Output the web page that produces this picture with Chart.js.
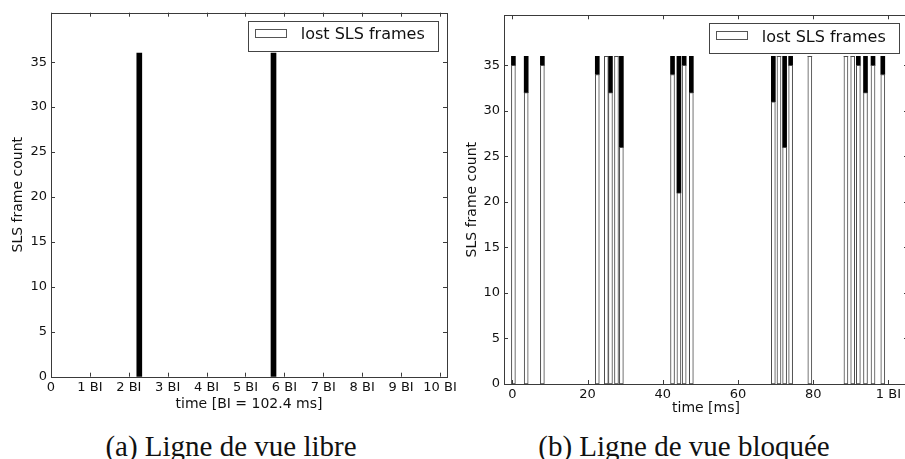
<!DOCTYPE html>
<html lang="fr">
<head>
    <meta charset="UTF-8">
    <title>SLS frames</title>
    <style>
        html, body {
            margin: 0;
            padding: 0;
            background: #fff;
            overflow: hidden;
            width: 905px;
            height: 459px;
        }
        canvas {
            position: absolute;
            top: 0;
        }
        #chart-a { left: 0; }
        #chart-b { left: 460px; }
        .caption {
            position: absolute;
            top: 432px;
            font-family: "Liberation Serif", serif;
            font-size: 29px;
            line-height: 29px;
            color: #111;
            white-space: nowrap;
            text-align: center;
            width: 400px;
        }
    </style>
</head>
<body>
    <canvas id="chart-a" width="460" height="415"></canvas>
    <canvas id="chart-b" width="448" height="420"></canvas>
    <div class="caption" style="left: 31px;">(a) Ligne de vue libre</div>
    <div class="caption" style="left: 484px;">(b) Ligne de vue bloquée</div>

    <script src="https://cdn.jsdelivr.net/npm/chart.js"></script>
    <script>
        // (a) free line of sight, time in BI
        const timesA = [2.27, 5.72];
        const lostA = [0, 0];
        const receivedA = [36, 36];
        const xTicksA = [0, 1, 2, 3, 4, 5, 6, 7, 8, 9, 10];
        const xLabelsA = ['0', '1 BI', '2 BI', '3 BI', '4 BI', '5 BI', '6 BI', '7 BI', '8 BI', '9 BI', '10 BI'];

        // (b) blocked line of sight, time in ms
        const timesB = [0.3, 3.7, 8.0, 22.6, 25.0, 26.1, 27.7, 29.0, 42.6, 44.3, 45.7, 47.6,
                        69.4, 70.9, 72.4, 74.0, 79.1, 88.7, 90.5, 92.0, 93.9, 95.9, 98.5];
        const lostB = [35, 32, 35, 34, 36, 32, 36, 26, 34, 21, 35, 32,
                       31, 36, 26, 35, 36, 36, 36, 35, 32, 35, 34];
        const receivedB = [1, 4, 1, 2, 0, 4, 0, 10, 2, 15, 1, 4,
                           5, 0, 10, 1, 0, 0, 0, 1, 4, 1, 2];
        const xTicksB = [0, 20, 40, 60, 80, 100];
        const xLabelsB = ['0', '20', '40', '60', '80', '1 BI'];

        const yTicks = [0, 5, 10, 15, 20, 25, 30, 35];
        const legendLabel = 'lost SLS frames';

        const tickFont = { family: 'DejaVu Sans', size: 13 };
        const titleFont = { family: 'DejaVu Sans', size: 14 };
        const spineColor = '#3a3a3a';

        // matplotlib-like frame: box, inward ticks on four sides, legend inside
        const framePlugin = {
            id: 'frame',
            afterDraw(chart) {
                const ctx = chart.ctx;
                const a = chart.chartArea;
                const xs = chart.scales.x, ys = chart.scales.y;
                ctx.save();
                ctx.strokeStyle = spineColor;
                ctx.lineWidth = 1;
                ctx.strokeRect(Math.round(a.left) + 0.5, Math.round(a.top) + 0.5,
                    Math.round(a.right - a.left), Math.round(a.bottom - a.top));
                ctx.beginPath();
                xs.ticks.forEach(t => {
                    const px = Math.round(xs.getPixelForValue(t.value)) + 0.5;
                    ctx.moveTo(px, a.bottom); ctx.lineTo(px, a.bottom - 4);
                    ctx.moveTo(px, a.top); ctx.lineTo(px, a.top + 4);
                });
                ys.ticks.forEach(t => {
                    const py = Math.round(ys.getPixelForValue(t.value)) + 0.5;
                    ctx.moveTo(a.left, py); ctx.lineTo(a.left + 4, py);
                    ctx.moveTo(a.right, py); ctx.lineTo(a.right - 4, py);
                });
                ctx.stroke();

                // legend box
                const bw = 190, bh = 30;
                const bx = a.right - 8.7 - bw, by = a.top + 8;
                ctx.fillStyle = '#fff';
                ctx.fillRect(bx, by, bw, bh);
                ctx.strokeStyle = '#444';
                ctx.strokeRect(Math.round(bx) + 0.5, Math.round(by) + 0.5, bw, bh);
                ctx.strokeStyle = '#555';
                ctx.strokeRect(Math.round(bx + 7) + 0.5, Math.round(by + 8) + 0.5, 31, 8);
                ctx.fillStyle = '#111';
                ctx.font = '16px "DejaVu Sans"';
                ctx.textBaseline = 'alphabetic';
                ctx.textAlign = 'left';
                ctx.fillText(chart.data.datasets[0].label, bx + 52.4, by + 18.6);
                ctx.restore();
            }
        };

        function makeChart(id, times, lost, received, xTicks, xLabels, xMin, xMax, xTitle, barW, geo) {
            const lostPts = times.map((t, i) => ({ x: t, y: lost[i] }));
            const recvPts = times.map((t, i) => ({ x: t, y: received[i] }));
            return new Chart(document.getElementById(id), {
                type: 'bar',
                data: {
                    datasets: [{
                        label: legendLabel,
                        data: lostPts,
                        backgroundColor: '#ffffff',
                        borderColor: '#4a4a4a',
                        borderWidth: 1,
                        borderSkipped: false,
                        barThickness: barW
                    }, {
                        label: 'received',
                        data: recvPts,
                        backgroundColor: '#000000',
                        borderColor: '#000000',
                        borderWidth: 0,
                        barThickness: barW
                    }]
                },
                options: {
                    responsive: false,
                    animation: false,
                    events: [],
                    layout: { padding: { left: 0, right: geo.padRight, top: geo.padTop, bottom: 0 } },
                    plugins: {
                        legend: { display: false },
                        tooltip: { enabled: false }
                    },
                    scales: {
                        x: {
                            type: 'linear',
                            stacked: true,
                            offset: false,
                            min: xMin,
                            max: xMax,
                            grid: { display: false, drawTicks: false, offset: false },
                            border: { display: false },
                            afterBuildTicks: s => { s.ticks = xTicks.map(v => ({ value: v })); },
                            afterFit: s => { s.height = geo.xHeight; },
                            ticks: {
                                padding: 3,
                                color: '#111',
                                font: tickFont,
                                maxRotation: 0,
                                autoSkip: false,
                                callback: v => xLabels[xTicks.indexOf(v)]
                            },
                            title: {
                                display: true,
                                text: xTitle,
                                color: '#111',
                                font: titleFont,
                                padding: { top: 0, bottom: geo.xTitlePad }
                            }
                        },
                        y: {
                            stacked: true,
                            min: 0,
                            max: 40.5,
                            grid: { display: false, drawTicks: false },
                            border: { display: false },
                            afterBuildTicks: s => { s.ticks = yTicks.map(v => ({ value: v })); },
                            afterFit: s => { s.width = geo.yWidth; },
                            ticks: {
                                padding: 4,
                                color: '#111',
                                font: tickFont,
                                callback: v => String(v)
                            },
                            title: {
                                display: true,
                                text: 'SLS frame count',
                                color: '#111',
                                font: titleFont,
                                padding: { top: geo.yTitlePad, bottom: 0 }
                            }
                        }
                    }
                },
                plugins: [framePlugin]
            });
        }

        makeChart('chart-a', timesA, lostA, receivedA, xTicksA, xLabelsA, 0, 10.18,
            'time [BI = 102.4 ms]', 5,
            { padRight: 13, padTop: 12.7, xHeight: 38.3, yWidth: 51, xTitlePad: 2.6, yTitlePad: 9.6 });

        makeChart('chart-b', timesB, lostB, receivedB, xTicksB, xLabelsB, -2.2, 105.2,
            'time [ms]', 4,
            { padRight: 0, padTop: 15.3, xHeight: 36, yWidth: 44, xTitlePad: 3.6, yTitlePad: 4.1 });
    </script>
</body>
</html>
